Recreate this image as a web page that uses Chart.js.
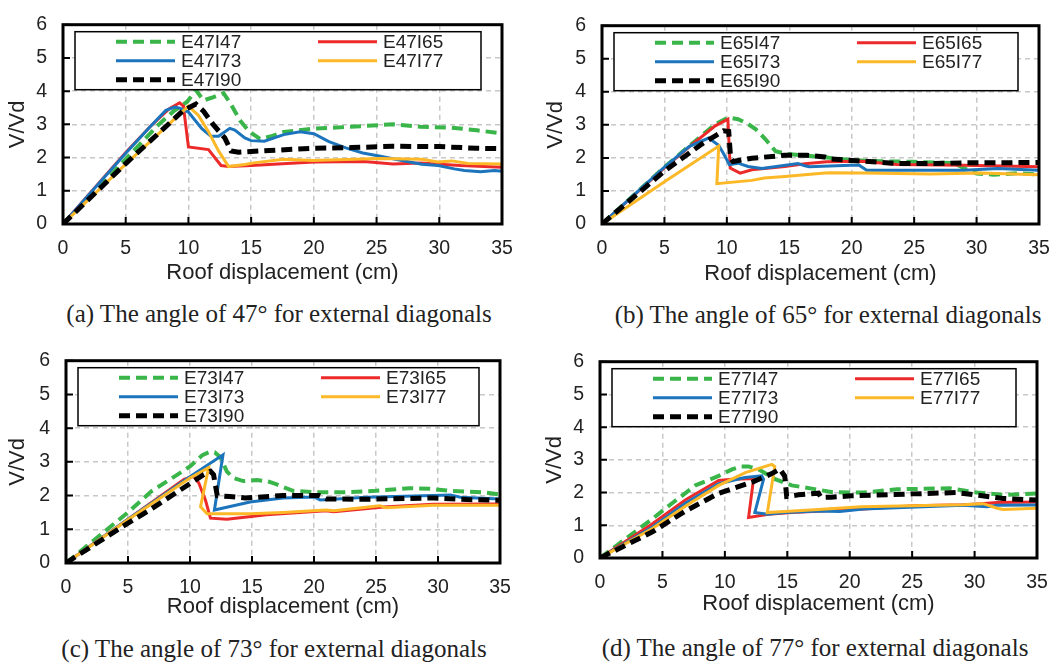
<!DOCTYPE html>
<html>
<head>
<meta charset="utf-8">
<script src="https://cdn.jsdelivr.net/npm/chart.js@4.4.1/dist/chart.umd.min.js"></script>
<style>
html, body { margin: 0; padding: 0; background: #fff; width: 1059px; height: 664px; overflow: hidden; position: relative; }
canvas { position: absolute; }
.cap { position: absolute; font-family: "Liberation Serif", "Times New Roman", serif; font-size: 25px; line-height: 25px; white-space: nowrap; transform: translateX(-50%); color: #222; }
</style>
</head>
<body>
<script>
// tick values and texts
const xTicks = [0, 5, 10, 15, 20, 25, 30, 35];
const yTicks = [0, 1, 2, 3, 4, 5, 6];
const xTitle = 'Roof displacement (cm)';
const yTitle = 'V/Vd';
const captions = [
    '(a) The angle of 47° for external diagonals',
    '(b) The angle of 65° for external diagonals',
    '(c) The angle of 73° for external diagonals',
    '(d) The angle of 77° for external diagonals'
];
const namesA = ['E47I47', 'E47I65', 'E47I73', 'E47I77', 'E47I90'];
const namesB = ['E65I47', 'E65I65', 'E65I73', 'E65I77', 'E65I90'];
const namesC = ['E73I47', 'E73I65', 'E73I73', 'E73I77', 'E73I90'];
const namesD = ['E77I47', 'E77I65', 'E77I73', 'E77I77', 'E77I90'];

// (a) 47
const E47I47 = [[0,0],[2.5,0.97],[5,1.95],[7.5,2.95],[8.8,3.39],[9.9,3.68],[10.6,4.03],[11.2,3.72],[12,3.82],[12.8,3.94],[13.4,3.6],[14.1,3.12],[14.8,2.8],[15.7,2.56],[16.6,2.64],[17.6,2.77],[19.9,2.87],[22.6,2.92],[26.3,3.0],[28.5,2.93],[31,2.9],[33,2.82],[35,2.73]];
const E47I65 = [[0,0],[2.5,1.08],[5,2.15],[7,2.95],[8.5,3.48],[9.3,3.65],[9.6,3.55],[10.0,2.32],[11.6,2.24],[12.6,1.76],[13.2,1.73],[15,1.76],[20,1.87],[24,1.88],[26.3,1.81],[28.5,1.84],[30,1.8],[31.7,1.76],[35,1.71]];
const E47I73 = [[0,0],[2.5,1.07],[5,2.13],[7,2.95],[8.2,3.42],[8.9,3.52],[9.3,3.49],[10,3.37],[11.05,2.88],[11.8,2.64],[12.4,2.64],[13.3,2.88],[13.7,2.83],[14.5,2.59],[15,2.51],[16.05,2.49],[17.6,2.69],[18.9,2.78],[20,2.72],[21.2,2.48],[22.55,2.29],[23.9,2.14],[25.2,2.05],[26.5,1.95],[28.6,1.8],[29.9,1.76],[31.2,1.66],[32,1.61],[33.3,1.57],[34.4,1.61],[35,1.59]];
const E47I77 = [[0,0],[5,1.8],[10,3.55],[10.8,3.27],[11.6,2.78],[12.4,2.2],[13.2,1.73],[14.5,1.79],[15.2,1.84],[17.6,1.95],[19.9,1.91],[21.2,1.93],[25.2,1.97],[28.6,1.95],[29.9,1.87],[31,1.9],[32.3,1.82],[35,1.81]];
const E47I90 = [[0,0],[5,1.82],[9.6,3.42],[10.6,3.61],[11.2,3.4],[12,2.98],[12.9,2.59],[13.4,2.2],[14,2.16],[15.8,2.2],[20,2.28],[23,2.3],[26.3,2.34],[30,2.33],[33,2.28],[35,2.27]];

// (b) 65
const E65I47 = [[0,0],[5,1.72],[6.8,2.3],[7.9,2.65],[9.07,3.02],[10.1,3.22],[10.9,3.17],[11.6,3.05],[12.3,2.87],[13.06,2.58],[13.9,2.2],[14.8,2.12],[17.8,2.02],[20,1.93],[22.3,1.9],[25,1.88],[28.2,1.84],[29.5,1.6],[30,1.53],[31.4,1.49],[33.3,1.54],[35,1.49]];
const E65I65 = [[0,0],[5,1.7],[7.2,2.4],[9.07,2.97],[10.08,3.17],[10.27,1.69],[11.06,1.54],[12,1.64],[14.65,1.74],[16.25,1.82],[18,1.88],[20.8,1.9],[23.6,1.8],[29,1.78],[35,1.73]];
const E65I73 = [[0,0],[5,1.72],[7,2.35],[8.54,2.6],[9.34,2.38],[9.73,2.13],[10.2,1.8],[10.9,1.84],[11.7,1.74],[12.8,1.68],[15.7,1.83],[16.25,1.76],[16.6,1.73],[19.9,1.78],[20.6,1.78],[21.2,1.63],[23.6,1.63],[29,1.63],[31.7,1.68],[35,1.63]];
const E65I77 = [[0,0],[5,1.28],[9.35,2.36],[9.2,1.22],[12,1.32],[13,1.39],[14.65,1.44],[17.85,1.54],[18.3,1.55],[21,1.54],[26.3,1.51],[30.3,1.54],[35,1.49]];
const E65I90 = [[0,0],[5,1.6],[8,2.42],[9.07,2.67],[9.73,2.82],[10.15,2.8],[10.3,1.99],[10.5,1.89],[12,1.99],[14.65,2.08],[16.4,2.08],[17.85,2.03],[18.3,1.97],[21,1.9],[23.6,1.83],[26.3,1.83],[29,1.85],[35,1.86]];

// (c) 73
const E73I47 = [[0,0],[5,1.5],[6.86,2.12],[8.99,2.62],[10.05,2.88],[11,3.2],[11.6,3.3],[12,3.28],[12.45,3.14],[12.98,2.71],[13.5,2.52],[14.3,2.43],[15.4,2.46],[16.3,2.42],[17,2.33],[18.3,2.14],[20.2,2.1],[22.4,2.1],[25,2.14],[27.7,2.22],[29.4,2.2],[31,2.14],[33.6,2.1],[35,2.03]];
const E73I65 = [[0,0],[5,1.3],[9.52,2.48],[10.3,2.57],[10.7,2.38],[11.25,1.86],[11.65,1.33],[12.98,1.3],[16.17,1.43],[20.96,1.55],[21.6,1.52],[25.6,1.66],[29.6,1.74],[35,1.75]];
const E73I73 = [[0,0],[5,1.3],[10.05,2.57],[12.66,3.21],[11.97,1.57],[14.84,1.81],[17.5,1.93],[20,1.96],[20.5,1.87],[24.25,1.95],[29.6,2.0],[31,2.02],[31.8,1.95],[35,1.9]];
const E73I77 = [[0,0],[5,1.28],[10,2.52],[11.5,2.83],[10.85,1.67],[11.38,1.46],[14.84,1.46],[17.5,1.5],[20.96,1.57],[21.6,1.55],[25.3,1.7],[25.8,1.64],[29.6,1.71],[35,1.71]];
const E73I90 = [[0,0],[4.2,1.0],[6.86,1.6],[9.52,2.24],[11.1,2.62],[11.65,2.72],[11.9,2.62],[12.2,2.0],[13.2,1.97],[14.5,1.93],[15.4,1.95],[17.5,2.0],[20.4,2.0],[21,1.9],[24.25,1.89],[29.6,1.93],[32.3,1.88],[35,1.86]];

// (d) 77
const E77I47 = [[0,0],[4.2,1.2],[5.8,1.68],[7.65,2.22],[9.51,2.51],[10.57,2.71],[11.3,2.8],[11.9,2.8],[12.7,2.71],[14.03,2.41],[15.35,2.22],[16.95,2.12],[18.5,2.02],[20.1,2.0],[21.1,2.0],[23.8,2.1],[28,2.13],[30.2,2.0],[32.3,1.93],[35,1.97]];
const E77I65 = [[0,0],[4.2,1.05],[6.86,1.78],[9.51,2.37],[10.57,2.41],[12.0,2.42],[12.3,2.42],[11.9,1.24],[13.5,1.34],[15.35,1.39],[21.1,1.5],[25.1,1.6],[29.1,1.63],[30.5,1.66],[31.8,1.7],[35,1.71]];
const E77I73 = [[0,0],[4.2,0.95],[6.86,1.68],[9.51,2.27],[11.6,2.46],[12.96,2.51],[13.1,2.41],[12.4,1.39],[13.4,1.34],[14.8,1.39],[17.5,1.44],[19.2,1.42],[21.1,1.5],[29.1,1.61],[31,1.57],[31.8,1.61],[35,1.62]];
const E77I77 = [[0,0],[4.2,0.9],[6.86,1.59],[9.51,2.22],[11.64,2.61],[13.76,2.86],[14.0,2.8],[13.4,1.39],[14.8,1.42],[17.5,1.48],[20.9,1.57],[25,1.6],[29.1,1.63],[30.7,1.66],[31.8,1.52],[32.3,1.48],[35,1.52]];
const E77I90 = [[0,0],[4.2,0.8],[6.86,1.44],[9.51,1.98],[12.2,2.32],[13.76,2.58],[14.4,2.72],[14.8,2.5],[14.95,1.88],[15.9,1.93],[17.5,1.98],[17.7,1.85],[18.5,1.86],[20.1,1.9],[25.1,1.96],[28.6,2.0],[30.2,1.92],[32.3,1.82],[35,1.77]];

// line styles, same order in every panel
const lineStyles = [
    { color: '#39b54a', width: 4, dash: [11, 6] },
    { color: '#ec2a2a', width: 3, dash: [] },
    { color: '#1c75bc', width: 3, dash: [] },
    { color: '#fdb827', width: 3, dash: [] },
    { color: '#000000', width: 5, dash: [11, 6] }
];

const FONT = '"Liberation Sans", Arial, sans-serif';
const TXT = '#222';

// plot area boxes (page pixels) and text positions
const panels = [
    { names: namesA, series: [E47I47, E47I65, E47I73, E47I77, E47I90], caption: captions[0], l: 63, t: 17, r: 502, b: 224, yTitleX: 18, xTitleY: 273, capX: 279, capY: 314 },
    { names: namesB, series: [E65I47, E65I65, E65I73, E65I77, E65I90], caption: captions[1], l: 602, t: 18, r: 1039, b: 224, yTitleX: 556, xTitleY: 274, capX: 828, capY: 315 },
    { names: namesC, series: [E73I47, E73I65, E73I73, E73I77, E73I90], caption: captions[2], l: 66, t: 353, r: 500, b: 563, yTitleX: 17.5, xTitleY: 607, capX: 274, capY: 649 },
    { names: namesD, series: [E77I47, E77I65, E77I73, E77I77, E77I90], caption: captions[3], l: 600, t: 354, r: 1037, b: 558, yTitleX: 555, xTitleY: 604, capX: 815, capY: 648 }
];

// frame, inside tick marks and the boxed legend
const framePlugin = {
    id: 'frame',
    afterDatasetsDraw(chart) {
        const { ctx, chartArea: a, scales: { x, y } } = chart;
        ctx.save();
        ctx.setLineDash([]);
        ctx.strokeStyle = '#000';
        ctx.lineWidth = 2;
        ctx.beginPath();
        x.ticks.forEach(t => {
            const px = x.getPixelForValue(t.value);
            ctx.moveTo(px, a.bottom);
            ctx.lineTo(px, a.bottom - 7);
        });
        y.ticks.forEach(t => {
            const py = y.getPixelForValue(t.value);
            ctx.moveTo(a.left, py);
            ctx.lineTo(a.left + 7, py);
        });
        ctx.stroke();
        ctx.lineWidth = 3;
        ctx.strokeRect(a.left, a.top, a.right - a.left, a.bottom - a.top);

        // legend box
        const bx = a.left + 12, by = a.top + 7;
        const bw = a.right - a.left - 33, bh = 58;
        ctx.fillStyle = '#fff';
        ctx.fillRect(bx, by, bw, bh);
        ctx.lineWidth = 1.5;
        ctx.strokeRect(bx, by, bw, bh);
        ctx.font = '19px ' + FONT;
        ctx.textBaseline = 'middle';
        ctx.textAlign = 'left';
        chart.data.datasets.forEach((ds, i) => {
            const col = i % 2, row = Math.floor(i / 2);
            const ly = by + 10 + row * 19;
            const x0 = a.left + (col ? 255 : 53);
            ctx.strokeStyle = ds.borderColor;
            ctx.lineWidth = ds.borderWidth;
            ctx.setLineDash(ds.borderDash);
            ctx.beginPath();
            ctx.moveTo(x0, ly);
            ctx.lineTo(x0 + 59, ly);
            ctx.stroke();
            ctx.setLineDash([]);
            ctx.fillStyle = TXT;
            ctx.fillText(ds.label, a.left + (col ? 320 : 118), ly + 1);
        });
        ctx.restore();
    }
};

panels.forEach(p => {
    const cv = document.createElement('canvas');
    const w = p.r - p.l + 100;
    const h = p.b - p.t + 88;
    cv.width = w;
    cv.height = h;
    cv.style.left = (p.l - 70) + 'px';
    cv.style.top = (p.t - 20) + 'px';
    document.body.appendChild(cv);

    const yPad = p.yTitleX - (p.l - 70) - 13.2;
    const xPad = 68 - 13.2 - (p.xTitleY - p.b);

    new Chart(cv.getContext('2d'), {
        type: 'line',
        data: {
            datasets: p.series.map((s, i) => ({
                label: p.names[i],
                data: s.map(([x, y]) => ({ x, y })),
                borderColor: lineStyles[i].color,
                borderWidth: lineStyles[i].width,
                borderDash: lineStyles[i].dash,
                pointRadius: 0,
                tension: 0,
                fill: false,
                order: 4 - i
            }))
        },
        options: {
            responsive: false,
            animation: false,
            layout: { padding: { left: 0, top: 20, right: 30, bottom: 0 } },
            plugins: { legend: { display: false }, tooltip: { enabled: false } },
            scales: {
                x: {
                    type: 'linear',
                    min: 0,
                    max: 35,
                    afterBuildTicks: s => { s.ticks = xTicks.map(v => ({ value: v })); },
                    afterFit: s => { s.height = 68; },
                    grid: { color: '#c8c8c8', lineWidth: 1.5, drawTicks: false },
                    border: { display: false, dash: [5, 4] },
                    ticks: { padding: 13, color: TXT, font: { family: FONT, size: 19.5 } },
                    title: { display: true, text: xTitle, color: TXT, font: { family: FONT, size: 22 }, padding: { top: 0, bottom: xPad } }
                },
                y: {
                    type: 'linear',
                    min: 0,
                    max: 6,
                    afterBuildTicks: s => { s.ticks = yTicks.map(v => ({ value: v })); },
                    afterFit: s => { s.width = 70; },
                    grid: { color: '#c8c8c8', lineWidth: 1.5, drawTicks: false },
                    border: { display: false, dash: [5, 4] },
                    ticks: { padding: 16, color: TXT, font: { family: FONT, size: 19.5 } },
                    title: { display: true, text: yTitle, color: TXT, font: { family: FONT, size: 22 }, padding: { top: yPad, bottom: 0 } }
                }
            }
        },
        plugins: [framePlugin]
    });

    const cap = document.createElement('div');
    cap.className = 'cap';
    cap.textContent = p.caption;
    cap.style.left = p.capX + 'px';
    cap.style.top = (p.capY - 12.6) + 'px';
    document.body.appendChild(cap);
});
</script>
</body>
</html>
